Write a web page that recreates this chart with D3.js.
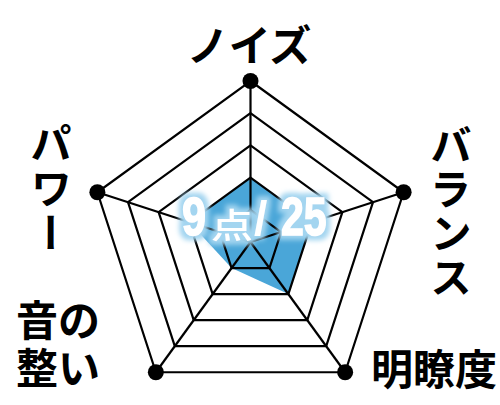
<!DOCTYPE html>
<html><head><meta charset="utf-8">
<script src="https://cdn.jsdelivr.net/npm/d3@7"></script>
<style>
html,body{margin:0;padding:0;background:#fff;}
svg{display:block;}
.vert{writing-mode:vertical-rl;text-orientation:upright;}
</style></head>
<body>
<svg id="chart" width="500" height="405"></svg>
<script>
const axes = ["ノイズ", "バランス", "明瞭度", "音の整い", "パワー"];
const values = [2, 2, 2, 1, 2];
const levels = [1, 2, 3, 4, 5];
const maxValue = 5;
const scoreUnit = "点";

const svg = d3.select("#chart");
const cx = 250.5, cy = 242, R = 161;
const r = d3.scaleLinear().domain([0, maxValue]).range([0, R]);
const ang = d3.scaleLinear().domain([0, axes.length]).range([0, 2 * Math.PI]);
const pt = (i, v) => [cx + r(v) * Math.sin(ang(i)), cy - r(v) * Math.cos(ang(i))];

const defs = svg.append("defs");
const f = defs.append("filter").attr("id", "glow").attr("x", "-20%").attr("y", "-30%").attr("width", "140%").attr("height", "160%");
f.append("feMorphology").attr("in", "SourceAlpha").attr("operator", "dilate").attr("radius", 3.5).attr("result", "d");
f.append("feGaussianBlur").attr("in", "d").attr("stdDeviation", 2.5).attr("result", "b");
f.append("feFlood").attr("flood-color", "#a3d5f0").attr("result", "c");
f.append("feComposite").attr("in", "c").attr("in2", "b").attr("operator", "in").attr("result", "g");
const m = f.append("feMerge");
m.append("feMergeNode").attr("in", "g");
m.append("feMergeNode").attr("in", "SourceGraphic");

const g = svg.append("g");
const line = d3.line().curve(d3.curveLinearClosed);

// data polygon
g.append("path")
  .attr("d", line(values.map((v, i) => pt(i, v))))
  .attr("fill", "#4aa6d8");

// rings
levels.forEach(l => {
  g.append("path")
    .attr("d", line(axes.map((a, i) => pt(i, l))))
    .attr("fill", "none").attr("stroke", "#000").attr("stroke-width", 2.2);
});
// spokes + end dots
axes.forEach((a, i) => {
  const [x, y] = pt(i, maxValue);
  g.append("line").attr("x1", cx).attr("y1", cy).attr("x2", x).attr("y2", y)
    .attr("stroke", "#000").attr("stroke-width", 2.2);
  g.append("circle").attr("cx", x).attr("cy", y).attr("r", 8).attr("fill", "#000");
});

// axis labels
const jp = "'Noto Sans CJK JP', sans-serif";
function lab(t, x, y) {
  return svg.append("text").text(t)
    .attr("x", x).attr("y", y)
    .attr("text-anchor", "middle").attr("dominant-baseline", "central")
    .attr("font-family", jp).attr("font-weight", 700).attr("font-size", 42).attr("fill", "#000");
}
function vlab(t, x, yTop, gap) {
  return svg.append("text").text(t)
    .attr("class", "vert")
    .attr("x", x).attr("y", yTop)
    .attr("text-anchor", "start")
    .attr("letter-spacing", gap)
    .attr("font-family", jp).attr("font-weight", 700).attr("font-size", 42).attr("fill", "#000");
}
lab(axes[0], 249, 42);
vlab(axes[1], 451, 124, 2);
lab(axes[2], 434, 366);
const bl = Array.from(axes[3]);
const blText = svg.append("text")
  .attr("text-anchor", "middle").attr("dominant-baseline", "central")
  .attr("font-family", jp).attr("font-weight", 700).attr("font-size", 42).attr("fill", "#000");
blText.append("tspan").attr("x", 58).attr("y", 317).text(bl.slice(0, 2).join(""));
blText.append("tspan").attr("x", 58).attr("y", 365).text(bl.slice(2).join(""));
vlab(axes[4], 51, 122, 3);

// score label
const total = d3.sum(values), maxTotal = maxValue * axes.length;
const sl = svg.append("g").attr("filter", "url(#glow)").attr("fill", "#fff");
const sans = "'Liberation Sans', Arial, sans-serif";
sl.append("text").text(total)
  .attr("transform", "translate(182,235) scale(0.8,1)")
  .attr("font-family", sans).attr("font-weight", 700).attr("font-size", 54)
  .attr("stroke", "#fff").attr("stroke-width", 1.5);
sl.append("text").text(scoreUnit)
  .attr("transform", "translate(211,238) scale(1,0.8)")
  .attr("font-family", jp).attr("font-weight", 500).attr("font-size", 42);
sl.append("text").text("/")
  .attr("transform", "translate(254,235) scale(1,1)")
  .attr("font-family", sans).attr("font-weight", 700).attr("font-size", 48);
sl.append("text").text(maxTotal)
  .attr("transform", "translate(281,235) scale(0.76,1)")
  .attr("font-family", sans).attr("font-weight", 700).attr("font-size", 54)
  .attr("stroke", "#fff").attr("stroke-width", 1.5);
</script>
</body></html>
